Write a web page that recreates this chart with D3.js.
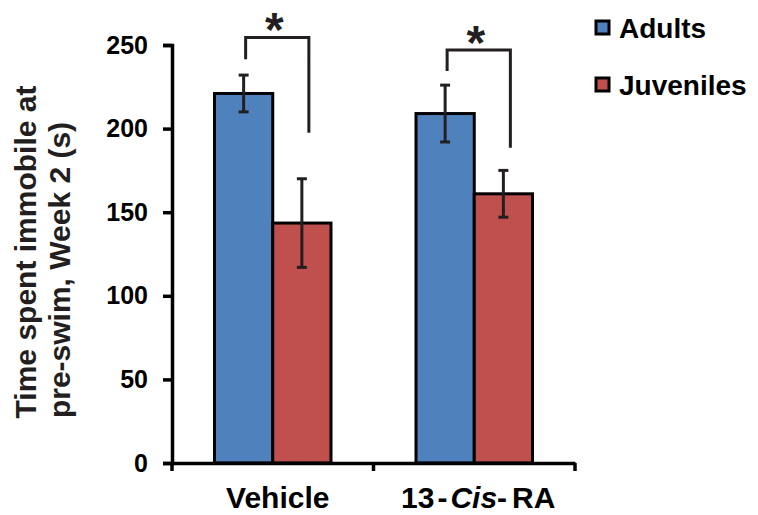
<!DOCTYPE html>
<html><head><meta charset="utf-8">
<script src="https://cdn.jsdelivr.net/npm/d3@7"></script>
<style>body{margin:0;background:#fff}svg{display:block;font-family:"Liberation Sans",Arial,sans-serif;font-weight:bold}</style>
</head><body><svg id="c" width="758" height="515"></svg>
<script>
const categories = ["Vehicle", "13-Cis-RA"];
const seriesNames = ["Adults", "Juveniles"];
const adults = [221, 209];
const adultsErr = [11, 17];
const juveniles = [143.5, 161];
const juvenilesErr = [26.5, 14];
const yTicks = [0, 50, 100, 150, 200, 250];
const bracketTop = [254.5, 247];
const bracketLeftEnd = [241.5, 234.5];
const bracketRightEnd = [197.5, 188.5];
const colors = ["#4F81BD", "#C0504D"];

const svg = d3.select("#c");
const y = d3.scaleLinear().domain([0, 250]).range([463, 45]);
const x = d3.scaleBand().domain(categories).range([172, 575]).paddingInner(0).paddingOuter(0);
const xs = d3.scaleBand().domain(seriesNames).range([0, x.bandwidth()]).paddingInner(0).paddingOuter(0.73);

const series = [
  {name: "Adults", vals: adults, err: adultsErr},
  {name: "Juveniles", vals: juveniles, err: juvenilesErr}
];

// bars
series.forEach((s, si) => {
  svg.append("g").selectAll("rect").data(categories).join("rect")
    .attr("x", (c) => x(c) + xs(s.name))
    .attr("y", (c, i) => y(s.vals[i]))
    .attr("width", xs.bandwidth())
    .attr("height", (c, i) => y(0) - y(s.vals[i]))
    .attr("fill", colors[si]).attr("stroke", "#000").attr("stroke-width", 3);
});
// error bars
series.forEach((s) => {
  const g = svg.append("g").attr("stroke", "#231f20").attr("stroke-width", 3);
  categories.forEach((c, i) => {
    const cx = x(c) + xs(s.name) + xs.bandwidth() / 2;
    const t = y(s.vals[i] + s.err[i]), b = y(s.vals[i] - s.err[i]);
    g.append("line").attr("x1", cx).attr("x2", cx).attr("y1", t).attr("y2", b);
    g.append("line").attr("x1", cx - 5).attr("x2", cx + 5).attr("y1", t).attr("y2", t);
    g.append("line").attr("x1", cx - 5).attr("x2", cx + 5).attr("y1", b).attr("y2", b);
  });
});
// axes
const yAxis = svg.append("g").attr("transform", "translate(172,0)")
  .call(d3.axisLeft(y).tickValues(yTicks).tickSize(9).tickPadding(15));
const xAxis = svg.append("g").attr("transform", "translate(0,463)")
  .call(d3.axisBottom(x).tickValues([]).tickSizeOuter(0));
[yAxis, xAxis].forEach(a => {
  a.select(".domain").attr("stroke", "#000").attr("stroke-width", 3.5);
  a.selectAll(".tick line").attr("stroke", "#000").attr("stroke-width", 3.5);
});
yAxis.selectAll(".tick text").attr("font-size", 25).attr("font-weight", "bold").attr("fill", "#000")
  .attr("font-family", "Liberation Sans, Arial, sans-serif");
// x ticks at band boundaries
const xTickPos = [x(categories[0]), x(categories[1]), x(categories[1]) + x.bandwidth()];
svg.append("g").selectAll("line").data(xTickPos).join("line")
  .attr("x1", d => d).attr("x2", d => d).attr("y1", 463).attr("y2", 471)
  .attr("stroke", "#000").attr("stroke-width", 3.5);

// x labels
const lab = svg.append("g").attr("font-size", 30).attr("fill", "#000");
lab.append("text").attr("x", x(categories[0]) + x.bandwidth() / 2 + 5).attr("y", 508)
  .attr("text-anchor", "middle").text("Vehicle");
const t2 = lab.append("text").attr("x", x(categories[1]) + x.bandwidth() / 2 + 4).attr("y", 508)
  .attr("text-anchor", "middle");
t2.append("tspan").text("13");
t2.append("tspan").attr("dx", 3).text("-");
t2.append("tspan").attr("dx", 3).attr("font-style", "italic").text("Cis");
t2.append("tspan").text("-");
t2.append("tspan").attr("dx", 5).text("RA");

// y title
const yt = svg.append("text").attr("transform", "rotate(-90)")
  .attr("text-anchor", "middle").attr("font-size", 30).attr("fill", "#231f20");
yt.append("tspan").attr("x", -252).attr("y", 36).text("Time spent immobile at");
yt.append("tspan").attr("x", -270).attr("y", 70).text("pre-swim, Week 2 (s)");

// significance brackets
categories.forEach((c, i) => {
  const lx = x(c) + xs("Adults") + xs.bandwidth() / 2 + 2;
  const rx = x(c) + xs("Juveniles") + xs.bandwidth() / 2 + 7;
  svg.append("path")
    .attr("d", `M${lx},${y(bracketLeftEnd[i])}V${y(bracketTop[i])}H${rx}V${y(bracketRightEnd[i])}`)
    .attr("fill", "none").attr("stroke", "#231f20").attr("stroke-width", 3);
  svg.append("text").attr("x", (lx + rx) / 2 - 3).attr("y", y(bracketTop[i]) + 9)
    .attr("text-anchor", "middle").attr("font-size", 48).attr("fill", "#231f20").text("*");
});

// legend
const lg = svg.append("g");
seriesNames.forEach((n, i) => {
  const yy = 21 + i * 57;
  lg.append("rect").attr("x", 596).attr("y", yy).attr("width", 13).attr("height", 13)
    .attr("fill", colors[i]).attr("stroke", "#000").attr("stroke-width", 3);
  lg.append("text").attr("x", 619).attr("y", yy + 17).attr("font-size", 28).attr("fill", "#000").text(n);
});
</script></body></html>
